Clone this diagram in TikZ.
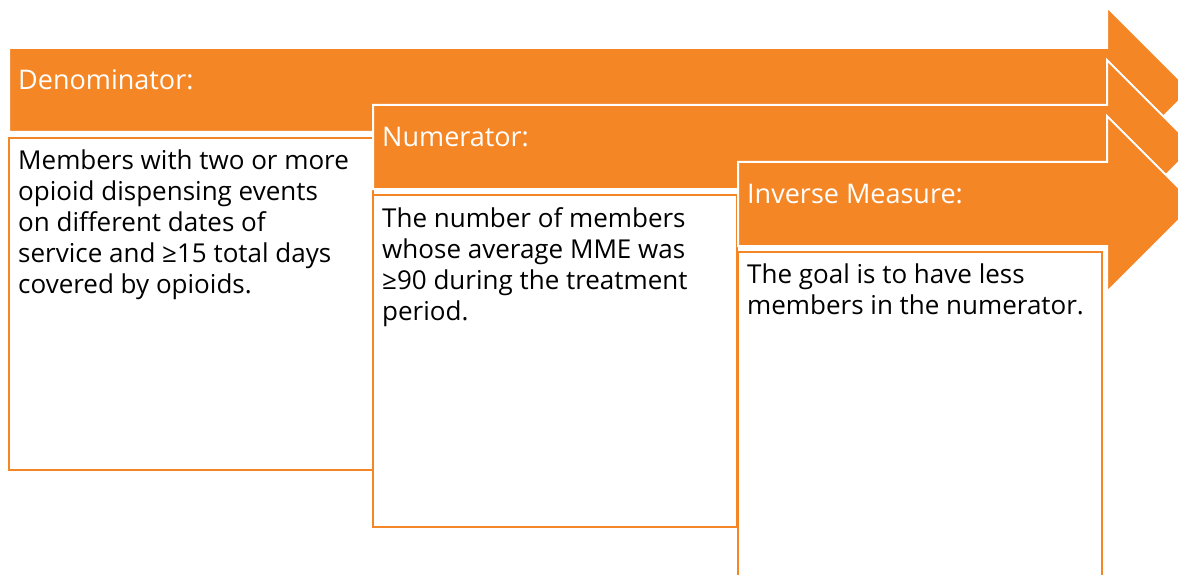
\documentclass[tikz,border=0pt]{standalone}
\usepackage{fontspec}
\setmainfont{Open Sans}
\definecolor{measureOrange}{RGB}{244,134,38}

\begin{document}
\begin{tikzpicture}[x=1pt, y=-1pt, font=\fontsize{26}{31}\selectfont,
StageArrow/.style={fill=measureOrange, draw=white, line width=2pt},
StageBox/.style={draw=measureOrange, fill=white, line width=2pt, inner sep=0pt, anchor=north west},
StageHead/.style={anchor=west, text=white, inner sep=0pt, font=\fontsize{27}{30}\selectfont},
StageText/.style={anchor=north west, align=left, inner sep=0pt}]
\useasboundingbox (0,0) rectangle (1178,575);
\clip (0,0) rectangle (1178,575);
\def\headStart{1107}
\foreach \name/\bx/\by/\hh/\bb/\head/\body in {
  denom/9/48/83/469/Denominator:/{Members with two or more\\opioid dispensing events\\on different dates of\\service and ≥15 total days\\covered by opioids.},
  numer/373/105/87/526/Numerator:/{The number of members\\whose average MME was\\≥90 during the treatment\\period.},
  inverse/738/162/88/600/Inverse Measure:/{The goal is to have less\\members in the numerator.}%
} {
  \pgfmathsetmacro\midY{\by+42}
  \draw [StageArrow] (\bx,\by) -- (\headStart,\by) -- (\headStart,{\midY-\hh}) -- ({\headStart+\hh},\midY)
    -- (\headStart,{\midY+\hh}) -- (\headStart,{\by+84}) -- (\bx,{\by+84}) -- cycle;
  \node [StageHead] (\name Head) at ({\bx+9},{\by+32}) {\head};
  \node [StageBox, minimum width=364, minimum height={\bb-\by-89}] (\name Box) at ({\bx-1},{\by+89}) {};
  \node [StageText] (\name Text) at ([shift={(10,13)}]\name Box.north west) {\body};
}
\end{tikzpicture}
\end{document}
